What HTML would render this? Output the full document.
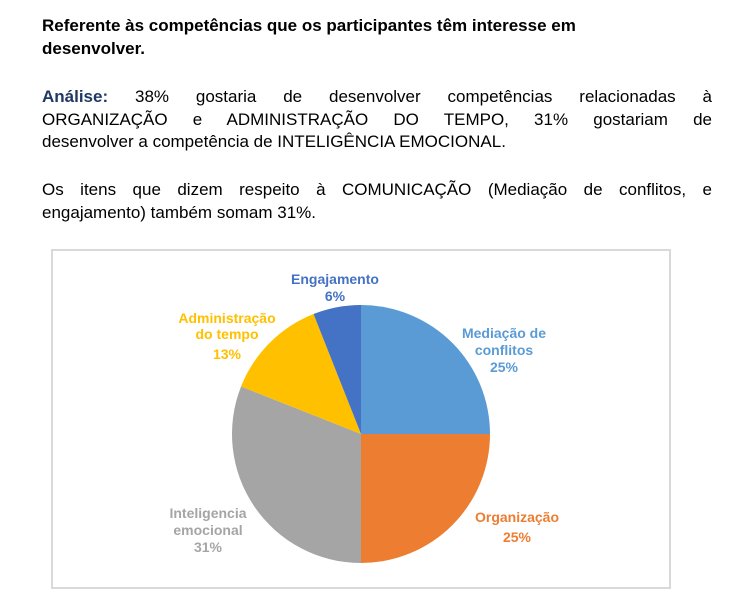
<!DOCTYPE html>
<html><head><meta charset="utf-8"><style>
body{margin:0;width:754px;height:611px;background:#fff;font-family:"Liberation Sans",Arial,sans-serif;color:#000;position:relative;overflow:hidden}
.t{position:absolute;left:42px;width:670px;font-size:17px;line-height:22.5px}
.l{display:block;white-space:nowrap}
.jl{text-align:justify;text-align-last:justify;white-space:normal}
#chart{position:absolute;left:51px;top:249px;width:620px;height:340px;border:2px solid #d9d9d9;box-sizing:border-box}
</style></head><body>
<div class="t" style="top:15px;font-weight:bold"><span class="l">Referente às competências que os participantes têm interesse em</span><span class="l">desenvolver.</span></div>
<div class="t" style="top:86px"><span class="l jl"><b style="color:#1f3864">Análise:</b> 38% gostaria de desenvolver competências relacionadas à</span><span class="l jl">ORGANIZAÇÃO e ADMINISTRAÇÃO DO TEMPO, 31% gostariam de</span><span class="l">desenvolver a competência de INTELIGÊNCIA EMOCIONAL.</span></div>
<div class="t" style="top:179px"><span class="l jl">Os itens que dizem respeito à COMUNICAÇÃO (Mediação de conflitos, e</span><span class="l">engajamento) também somam 31%.</span></div>
<div id="chart"></div>
<svg id="svg" width="754" height="611" style="position:absolute;left:0;top:0"></svg>
<script>
const categories=["Mediação de conflitos","Organização","Inteligencia emocional","Administração do tempo","Engajamento"];
const values=[25,25,31,13,6];
const labelLines=[["Mediação de","conflitos","25%"],["Organização","25%"],["Inteligencia","emocional","31%"],["Administração","do tempo","13%"],["Engajamento","6%"]];
const colors=["#5b9bd5","#ed7d31","#a5a5a5","#ffc000","#4472c4"];
const cx=361,cy=434,r=129;
const labelX=[504,517,208,227,335];
const labelBaselines=[[338,355,372],[522,542],[518,535,552],[323,339,359],[284,301]];
const svg=document.getElementById('svg');
const NS="http://www.w3.org/2000/svg";
const total=values.reduce((a,b)=>a+b,0);
function pt(a,rr){return [cx+rr*Math.sin(a),cy-rr*Math.cos(a)];}
let a0=0;
values.forEach((v,i)=>{
  const a1=a0+v/total*2*Math.PI;
  const p0=pt(a0,r),p1=pt(a1,r);
  const large=(a1-a0)>Math.PI?1:0;
  const p=document.createElementNS(NS,'path');
  p.setAttribute('d',`M${cx},${cy}L${p0[0]},${p0[1]}A${r},${r} 0 ${large} 1 ${p1[0]},${p1[1]}Z`);
  p.setAttribute('fill',colors[i]);
  
  
  svg.appendChild(p);
  const t=document.createElementNS(NS,'text');
  t.setAttribute('text-anchor','middle');
  t.setAttribute('font-family','"Liberation Sans",Arial,sans-serif');
  t.setAttribute('font-weight','bold');
  t.setAttribute('font-size','14');
  t.setAttribute('fill',colors[i]);
  
  
  const lines=labelLines[i].slice();
  lines[lines.length-1]=values[i]+'%';
  lines.forEach((s,k)=>{
    const ts=document.createElementNS(NS,'tspan');
    ts.setAttribute('x',labelX[i]);
    ts.setAttribute('y',labelBaselines[i][k]);
    ts.textContent=s;
    t.appendChild(ts);
  });
  svg.appendChild(t);
  a0=a1;
});
</script>
</body></html>
